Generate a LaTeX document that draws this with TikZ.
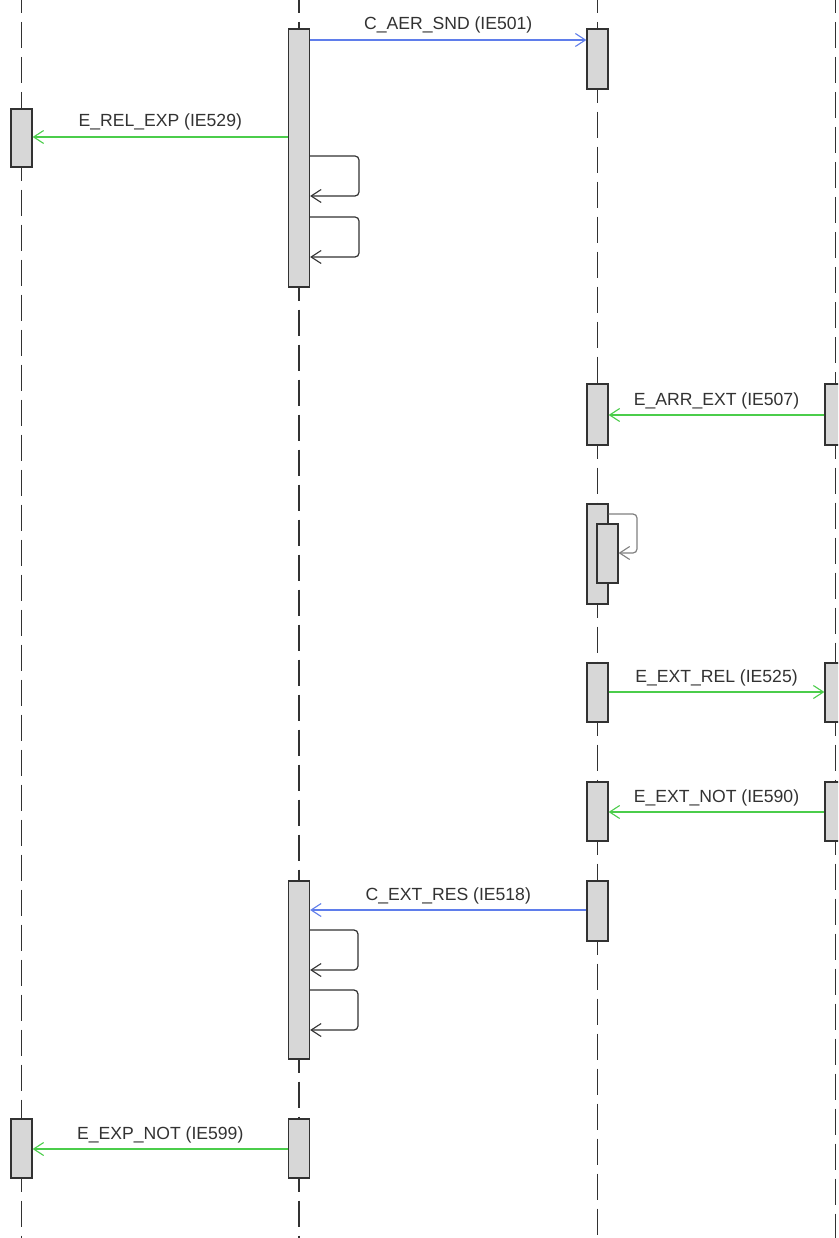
\documentclass[tikz,border=0pt]{standalone}
\usepackage{fontspec}
\setmainfont{Liberation Sans}
\usetikzlibrary{arrows.meta}
\definecolor{msgblue}{RGB}{95,125,235}
\definecolor{msggreen}{RGB}{75,205,75}
\definecolor{boxfill}{RGB}{215,215,215}
\definecolor{linegray}{RGB}{50,50,50}
\definecolor{txtgray}{RGB}{50,50,50}
\newcommand\actbox[4]{\node[act, minimum height={#4-#3}] (#1) at (#2,{(#3+#4)/2}) {};}
\begin{document}
\begin{tikzpicture}[x=1pt,y=-1pt,
  act/.style={rectangle, draw=linegray, fill=boxfill, line width=1.3pt, minimum width=21pt, inner sep=0pt},
  life/.style={draw=linegray, line width=1.7pt, dash pattern=on 26pt off 9pt, dash phase=13pt},
  tip/.style={-{Straight Barb[length=10pt,width=13pt,line width=1.1pt]}},
  msgb/.style={tip, draw=msgblue, line width=1.2pt},
  msgg/.style={tip, draw=msggreen, line width=2.1pt},
  selfloop/.style={tip, draw=linegray, line width=1.2pt, rounded corners=4pt},
  lbl/.style={anchor=base, yshift=10pt, text=txtgray, font=\fontsize{17.6}{20}\selectfont, inner sep=0pt}
]
\useasboundingbox (0,0) rectangle (838,1238);
\clip (0,0) rectangle (838,1238);
\fill[white] (0,0) rectangle (838,1238);

% activation boxes
\actbox{a1}{21.5}{109}{167}
\actbox{a2}{21.5}{1119}{1178}
\actbox{b1}{299}{29}{287}
\actbox{b2}{299}{881}{1059}
\actbox{b3}{299}{1119}{1178}
\actbox{c1}{597.5}{29}{89}
\actbox{c2}{597.5}{384}{445}
\actbox{c3}{597.5}{504}{604}
\actbox{c4}{597.5}{663}{722}
\actbox{c5}{597.5}{782}{841}
\actbox{c6}{597.5}{881}{941}
\node[act, minimum height=59pt] (c3i) at (607.5,553.5) {};
\actbox{d1}{835.5}{384}{445}
\actbox{d2}{835.5}{663}{722}
\actbox{d3}{835.5}{782}{841}

% lifeline ends
\coordinate (t1) at (21.5,0);   \coordinate (e1) at (21.5,1238);
\coordinate (t2) at (299,0);    \coordinate (e2) at (299,1238);
\coordinate (t3) at (597.5,0);  \coordinate (e3) at (597.5,1238);
\coordinate (t4) at (835.5,0);  \coordinate (e4) at (835.5,1238);

% lifelines
\draw[life] (t1) -- (a1.north);
\draw[life] (a1.south) -- (a2.north);
\draw[life] (a2.south) -- (e1);
\draw[life] (t2) -- (b1.north);
\draw[life] (b1.south) -- (b2.north);
\draw[life] (b2.south) -- (b3.north);
\draw[life] (b3.south) -- (e2);
\draw[life] (t3) -- (c1.north);
\draw[life] (c1.south) -- (c2.north);
\draw[life] (c2.south) -- (c3.north);
\draw[life] (c3.south) -- (c4.north);
\draw[life] (c4.south) -- (c5.north);
\draw[life] (c5.south) -- (c6.north);
\draw[life] (c6.south) -- (e3);
\draw[life] (t4) -- (d1.north);
\draw[life] (d1.south) -- (d2.north);
\draw[life] (d2.south) -- (d3.north);
\draw[life] (d3.south) -- (e4);

% messages
\draw[msgb] (b1.east |- 0,40) -- node[lbl]{C\_AER\_SND (IE501)} (c1.west |- 0,40);
\draw[msgg] (b1.west |- 0,137) -- node[lbl]{E\_REL\_EXP (IE529)} (a1.east |- 0,137);
\draw[msgg] (d1.west |- 0,415) -- node[lbl]{E\_ARR\_EXT (IE507)} (c2.east |- 0,415);
\draw[msgg] (c4.east |- 0,692) -- node[lbl]{E\_EXT\_REL (IE525)} (d2.west |- 0,692);
\draw[msgg] (d3.west |- 0,812) -- node[lbl]{E\_EXT\_NOT (IE590)} (c5.east |- 0,812);
\draw[msgb] (c6.west |- 0,910) -- node[lbl]{C\_EXT\_RES (IE518)} (b2.east |- 0,910);
\draw[msgg] (b3.west |- 0,1149) -- node[lbl]{E\_EXP\_NOT (IE599)} (a2.east |- 0,1149);

% self calls
\draw[selfloop] (b1.east |- 0,156) -- (359,156) -- (359,196) -- (b1.east |- 0,196);
\draw[selfloop] (b1.east |- 0,217) -- (359,217) -- (359,257) -- (b1.east |- 0,257);
\draw[selfloop, draw=gray] (c3.east |- 0,514) -- (637,514) -- (637,553) -- (c3i.east |- 0,553);
\draw[selfloop] (b2.east |- 0,930) -- (358,930) -- (358,970) -- (b2.east |- 0,970);
\draw[selfloop] (b2.east |- 0,990) -- (358,990) -- (358,1030) -- (b2.east |- 0,1030);
\end{tikzpicture}
\end{document}
